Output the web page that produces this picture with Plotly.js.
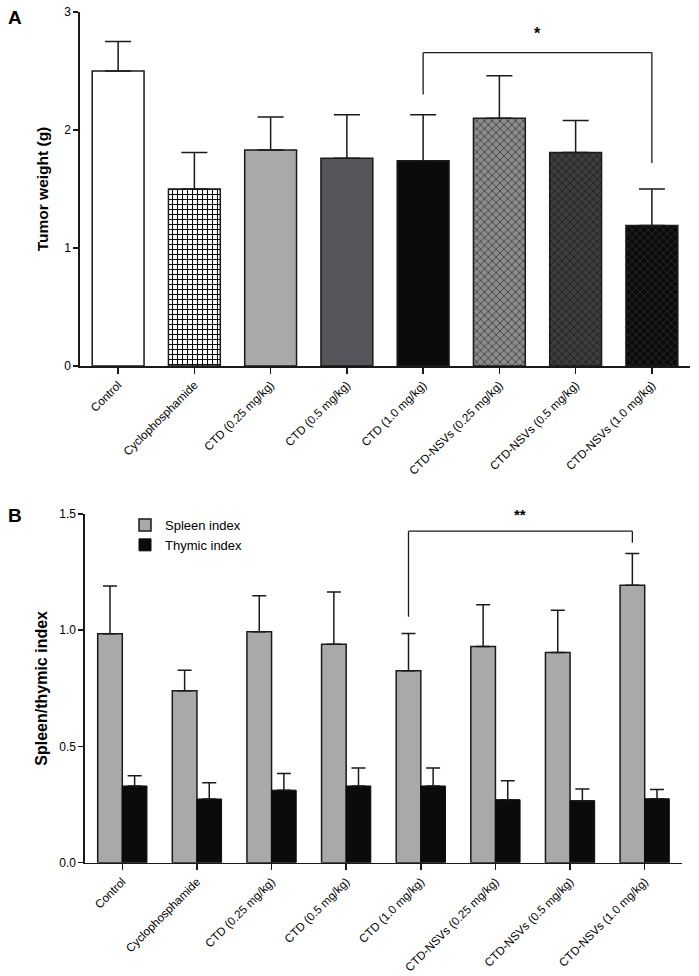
<!DOCTYPE html>
<html>
<head>
<meta charset="utf-8">
<script src="https://cdn.plot.ly/plotly-3.0.1.min.js"></script>
<style>html,body{margin:0;padding:0;background:#fff;}#chart{width:699px;height:976px;}</style>
</head>
<body>
<div id="chart"></div>
<script>
// ---- data ----
const categories = ["Control", "Cyclophosphamide", "CTD (0.25 mg/kg)", "CTD (0.5 mg/kg)", "CTD (1.0 mg/kg)",
  "CTD-NSVs (0.25 mg/kg)", "CTD-NSVs (0.5 mg/kg)", "CTD-NSVs (1.0 mg/kg)"];
const tumorWeight = [2.50, 1.50, 1.83, 1.76, 1.74, 2.10, 1.81, 1.19];
const tumorErr    = [0.25, 0.31, 0.28, 0.37, 0.39, 0.36, 0.27, 0.31];
const spleenIndex = [0.985, 0.740, 0.993, 0.940, 0.826, 0.930, 0.904, 1.194];
const spleenErr   = [0.205, 0.088, 0.155, 0.225, 0.160, 0.180, 0.182, 0.136];
const thymicIndex = [0.330, 0.274, 0.312, 0.330, 0.330, 0.271, 0.267, 0.275];
const thymicErr   = [0.044, 0.070, 0.072, 0.077, 0.077, 0.082, 0.050, 0.040];
const yTicksA = [0, 1, 2, 3];
const yTicksB = [0, 0.5, 1.0, 1.5];
const yTickTextB = ["0.0", "0.5", "1.0", "1.5"];

// ---- styles ----
const FONT = "Liberation Sans, Arial, sans-serif";
const idx = categories.map((c, i) => i);
const barColorsA  = ["#ffffff", "#ffffff", "#a9a9a9", "#56555b", "#0b0b0b", "#8c8c8c", "#3e3e3e", "#0b0b0b"];
const patShapesA  = ["", "+", "", "", "", "x", "x", "x"];
const patFgA      = ["#000", "#0a0a0a", "#000", "#000", "#000", "#3a3a3a", "#1c1c1c", "#2a2a2a"];
const patSizeA    = [6, 5, 6, 6, 6, 5.5, 5.5, 5.5];
const patSolA     = [0.3, 0.38, 0.3, 0.3, 0.3, 0.28, 0.28, 0.28];

const errLine = "#1a1a1a";

// Panel A: one trace per bar so each gets its own fill / pattern
const tracesA = categories.map((c, i) => {
  const m = { color: barColorsA[i], line: { color: "#1a1a1a", width: 1.5 } };
  if (patShapesA[i]) {
    m.pattern = { shape: patShapesA[i], fgcolor: patFgA[i], bgcolor: barColorsA[i],
      size: patSizeA[i], solidity: patSolA[i], fillmode: "replace" };
  }
  return {
    type: "bar", x: [idx[i]], y: [tumorWeight[i]], xaxis: "x", yaxis: "y",
    width: 0.68, offset: -0.34, showlegend: false, name: c, marker: m,
    error_y: { type: "data", symmetric: false, array: [tumorErr[i]], arrayminus: [0],
      color: errLine, thickness: 1.5, width: 13 }
  };
});

const tracesB = [
  {
    type: "bar", name: "Spleen index", x: idx, y: spleenIndex, xaxis: "x2", yaxis: "y2",
    width: 0.33, offset: -0.33,
    marker: { color: "#a9a9a9", line: { color: "#1a1a1a", width: 1.5 } },
    error_y: { type: "data", symmetric: false, array: spleenErr, arrayminus: spleenErr.map(() => 0),
      color: errLine, thickness: 1.5, width: 7 }
  },
  {
    type: "bar", name: "Thymic index", x: idx, y: thymicIndex, xaxis: "x2", yaxis: "y2",
    width: 0.33, offset: 0,
    marker: { color: "#0b0b0b", line: { color: "#0b0b0b", width: 1 } },
    error_y: { type: "data", symmetric: false, array: thymicErr, arrayminus: thymicErr.map(() => 0),
      color: errLine, thickness: 1.5, width: 7 }
  }
];

const xCommon = {
  range: [-0.5, 7.5], tickvals: idx, ticktext: categories, tickangle: -45,
  showline: true, linecolor: "#1a1a1a", linewidth: 1.6, ticks: "outside", ticklen: 6, tickwidth: 1.5,
  tickcolor: "#1a1a1a", showgrid: false, zeroline: false, fixedrange: true,
  tickfont: { family: FONT, size: 11.7, color: "#000" }
};
const yCommon = {
  showline: true, linecolor: "#1a1a1a", linewidth: 1.6, ticks: "outside", ticklen: 5, tickwidth: 1.5,
  tickcolor: "#1a1a1a", showgrid: false, zeroline: false, fixedrange: true,
  tickfont: { family: FONT, size: 12, color: "#000" }
};

const layout = {
  width: 699, height: 976,
  margin: { l: 0, r: 0, t: 0, b: 0 },
  paper_bgcolor: "#fff", plot_bgcolor: "#fff",
  font: { family: FONT, color: "#000" },
  barmode: "overlay",
  xaxis: Object.assign({}, xCommon, { domain: [80 / 699, 690 / 699], anchor: "y" }),
  yaxis: Object.assign({}, yCommon, { domain: [1 - 366 / 976, 1 - 12 / 976], range: [0, 3], tickvals: yTicksA,
    anchor: "x",
    title: { text: "<b>Tumor weight (g)</b>", font: { family: FONT, size: 15.5, color: "#000" }, standoff: 12 } }),
  xaxis2: Object.assign({}, xCommon, { domain: [85 / 699, 682 / 699], anchor: "y2" }),
  yaxis2: Object.assign({}, yCommon, { domain: [1 - 862.7 / 976, 1 - 514 / 976], range: [0, 1.5], tickvals: yTicksB,
    ticktext: yTickTextB, anchor: "x2",
    title: { text: "<b>Spleen/thymic index</b>", font: { family: FONT, size: 16, color: "#000" }, standoff: 8 } }),
  showlegend: true,
  legend: {
    x: 125 / 699, y: 1 - 510 / 976, xanchor: "left", yanchor: "top",
    font: { family: FONT, size: 13, color: "#000" }, bgcolor: "rgba(0,0,0,0)", itemwidth: 30,
    tracegroupgap: 0
  },
  shapes: [
    // panel A significance bracket (CTD 1.0 vs CTD-NSVs 1.0)
    { type: "line", xref: "x", yref: "y", x0: 4, x1: 4, y0: 2.30, y1: 2.655, line: { color: "#1a1a1a", width: 1.3 } },
    { type: "line", xref: "x", yref: "y", x0: 4, x1: 7, y0: 2.655, y1: 2.655, line: { color: "#1a1a1a", width: 1.3 } },
    { type: "line", xref: "x", yref: "y", x0: 7, x1: 7, y0: 2.655, y1: 1.72, line: { color: "#1a1a1a", width: 1.3 } },
    // panel B significance bracket (spleen CTD 1.0 vs spleen CTD-NSVs 1.0)
    { type: "line", xref: "x2", yref: "y2", x0: 3.835, x1: 3.835, y0: 1.058, y1: 1.426, line: { color: "#1a1a1a", width: 1.3 } },
    { type: "line", xref: "x2", yref: "y2", x0: 3.835, x1: 6.835, y0: 1.426, y1: 1.426, line: { color: "#1a1a1a", width: 1.3 } },
    { type: "line", xref: "x2", yref: "y2", x0: 6.835, x1: 6.835, y0: 1.426, y1: 1.376, line: { color: "#1a1a1a", width: 1.3 } }
  ],
  annotations: [
    { text: "<b>A</b>", xref: "paper", yref: "paper", x: 15 / 699, y: 1 - 17 / 976, showarrow: false,
      font: { family: FONT, size: 19, color: "#000" }, xanchor: "center", yanchor: "middle" },
    { text: "<b>B</b>", xref: "paper", yref: "paper", x: 15 / 699, y: 1 - 515 / 976, showarrow: false,
      font: { family: FONT, size: 19, color: "#000" }, xanchor: "center", yanchor: "middle" },
    { text: "<b>*</b>", xref: "x", yref: "y", x: 5.5, y: 2.82, showarrow: false,
      font: { family: FONT, size: 16, color: "#000" }, xanchor: "center", yanchor: "middle" },
    { text: "<b>**</b>", xref: "x2", yref: "y2", x: 5.335, y: 1.497, showarrow: false,
      font: { family: FONT, size: 15, color: "#000" }, xanchor: "center", yanchor: "middle" }
  ]
};

Plotly.newPlot("chart", tracesA.concat(tracesB), layout, { staticPlot: true, displayModeBar: false });
</script>
</body>
</html>
